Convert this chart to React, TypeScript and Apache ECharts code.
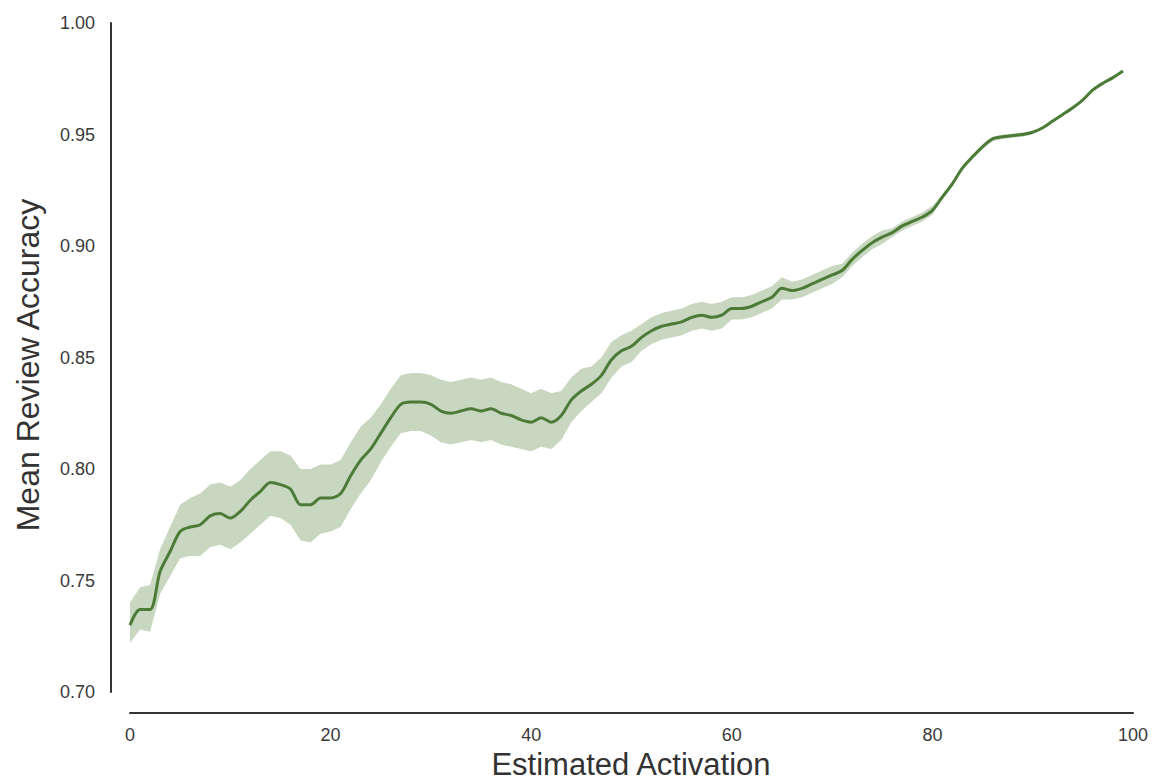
import React, { useEffect, useRef } from "react";
import * as echarts from "echarts";

// Estimated activation (x) for each sample point
const activation: number[] = Array.from({ length: 100 }, (_, i) => i);

// Mean review accuracy at each activation level
const meanAccuracy: number[] = [
  0.730, 0.737, 0.737, 0.754, 0.763, 0.772, 0.774, 0.775, 0.779, 0.780,
  0.778, 0.781, 0.786, 0.790, 0.794, 0.793, 0.791, 0.784, 0.784, 0.787,
  0.787, 0.789, 0.797, 0.804, 0.809, 0.816, 0.823, 0.829, 0.830, 0.830,
  0.829, 0.826, 0.825, 0.826, 0.827, 0.826, 0.827, 0.825, 0.824, 0.822,
  0.821, 0.823, 0.821, 0.824, 0.831, 0.835, 0.838, 0.842, 0.849, 0.853,
  0.855, 0.859, 0.862, 0.864, 0.865, 0.866, 0.868, 0.869, 0.868, 0.869,
  0.872, 0.872, 0.873, 0.875, 0.877, 0.881, 0.880, 0.881, 0.883, 0.885,
  0.887, 0.889, 0.894, 0.898, 0.9015, 0.904, 0.906, 0.909, 0.911, 0.913,
  0.916, 0.922, 0.928, 0.935, 0.940, 0.9445, 0.948, 0.949, 0.9495, 0.950,
  0.951, 0.953, 0.956, 0.959, 0.962, 0.9655, 0.970, 0.973, 0.9755, 0.9785,
];

// Upper bound of the confidence band
const ciHigh: number[] = [
  0.740, 0.747, 0.748, 0.764, 0.774, 0.784, 0.787, 0.789, 0.793, 0.794,
  0.792, 0.795, 0.800, 0.804, 0.808, 0.808, 0.806, 0.800, 0.800, 0.802,
  0.802, 0.804, 0.812, 0.819, 0.823, 0.829, 0.836, 0.842, 0.843, 0.843,
  0.842, 0.840, 0.839, 0.840, 0.841, 0.840, 0.841, 0.839, 0.838, 0.836,
  0.834, 0.836, 0.834, 0.835, 0.841, 0.845, 0.846, 0.850, 0.857, 0.860,
  0.862, 0.865, 0.868, 0.870, 0.871, 0.872, 0.874, 0.875, 0.874, 0.875,
  0.877, 0.877, 0.878, 0.880, 0.882, 0.886, 0.884, 0.885, 0.887, 0.889,
  0.891, 0.892, 0.897, 0.901, 0.9045, 0.907, 0.908, 0.911, 0.913, 0.915,
  0.918, 0.923, 0.929, 0.936, 0.941, 0.9455, 0.949, 0.950, 0.9505, 0.951,
  0.9515, 0.9535, 0.9565, 0.9595, 0.9625, 0.966, 0.9705, 0.9735, 0.976, 0.979,
];

// Lower bound of the confidence band
const ciLow: number[] = [
  0.722, 0.728, 0.727, 0.744, 0.752, 0.760, 0.761, 0.761, 0.765, 0.766,
  0.764, 0.767, 0.771, 0.775, 0.779, 0.778, 0.775, 0.768, 0.767, 0.771,
  0.772, 0.774, 0.782, 0.789, 0.795, 0.803, 0.810, 0.816, 0.817, 0.817,
  0.815, 0.812, 0.811, 0.812, 0.813, 0.812, 0.813, 0.811, 0.810, 0.809,
  0.808, 0.810, 0.809, 0.813, 0.821, 0.826, 0.830, 0.834, 0.841, 0.846,
  0.848, 0.853, 0.856, 0.858, 0.859, 0.860, 0.862, 0.863, 0.862, 0.863,
  0.867, 0.867, 0.868, 0.870, 0.872, 0.876, 0.876, 0.877, 0.879, 0.881,
  0.883, 0.886, 0.891, 0.895, 0.8985, 0.901, 0.904, 0.907, 0.909, 0.911,
  0.914, 0.921, 0.927, 0.934, 0.939, 0.9435, 0.947, 0.948, 0.9485, 0.949,
  0.9505, 0.9525, 0.9555, 0.9585, 0.9615, 0.965, 0.9695, 0.9725, 0.975, 0.978,
];

const xTicks = [0, 20, 40, 60, 80, 100];
const yRange = { min: 0.7, max: 1.0, step: 0.05 };

const LINE_COLOR = "#4b7b37";
const BAND_COLOR = "#c8d7c0";
const AXIS_COLOR = "#333333";
const LABEL_COLOR = "#3a3a3a";
const FONT = "'Liberation Sans', Arial, sans-serif";

export default function App() {
  const ref = useRef<HTMLDivElement>(null);

  useEffect(() => {
    if (!ref.current) return;
    const chart = echarts.init(ref.current, undefined, { renderer: "svg" });

    const linePoints = activation.map((x, i) => [x, meanAccuracy[i]]);

    chart.setOption({
      animation: false,
      backgroundColor: "#ffffff",
      textStyle: { fontFamily: FONT },
      grid: { left: 130, right: 21, top: 23, bottom: 90, containLabel: false },
      xAxis: {
        type: "value",
        min: xTicks[0],
        max: xTicks[xTicks.length - 1],
        interval: xTicks[1] - xTicks[0],
        offset: 21,
        axisLine: { show: true, onZero: false, lineStyle: { color: AXIS_COLOR, width: 2 } },
        axisTick: { show: false },
        splitLine: { show: false },
        axisLabel: { fontSize: 18, color: LABEL_COLOR, margin: 13, fontFamily: FONT },
      },
      yAxis: {
        type: "value",
        min: yRange.min,
        max: yRange.max,
        interval: yRange.step,
        offset: 19,
        axisLine: { show: true, onZero: false, lineStyle: { color: AXIS_COLOR, width: 2 } },
        axisTick: { show: false },
        splitLine: { show: false },
        axisLabel: {
          fontSize: 18,
          color: LABEL_COLOR,
          margin: 16,
          fontFamily: FONT,
          formatter: (v: number) => v.toFixed(2),
        },
      },
      series: [
        {
          // confidence band drawn as one polygon through the axis scales
          type: "custom",
          data: [0],
          silent: true,
          z: 1,
          renderItem: (_params: any, api: any) => {
            const upper = activation.map((x, i) => api.coord([x, ciHigh[i]]));
            const lower = activation
              .map((x, i) => api.coord([x, ciLow[i]]))
              .reverse();
            return {
              type: "polygon",
              shape: { points: upper.concat(lower), smooth: 0 },
              style: { fill: BAND_COLOR, stroke: "none" },
            };
          },
        },
        {
          type: "line",
          data: linePoints,
          showSymbol: false,
          smooth: 0.3,
          z: 3,
          lineStyle: { color: LINE_COLOR, width: 3 },
        },
      ],
      graphic: [
        {
          type: "text",
          x: 631,
          y: 764,
          style: {
            text: "Estimated Activation",
            fontSize: 31,
            fontFamily: FONT,
            fill: "#333333",
            textAlign: "center",
            textVerticalAlign: "middle",
          },
        },
        {
          type: "text",
          x: 28,
          y: 365,
          rotation: Math.PI / 2,
          style: {
            text: "Mean Review Accuracy",
            fontSize: 32,
            fontFamily: FONT,
            fill: "#333333",
            textAlign: "center",
            textVerticalAlign: "middle",
          },
        },
      ],
    });

    return () => chart.dispose();
  }, []);

  return (
    <div
      ref={ref}
      style={{ position: "absolute", left: 0, top: 0, width: 1154, height: 782 }}
    />
  );
}
